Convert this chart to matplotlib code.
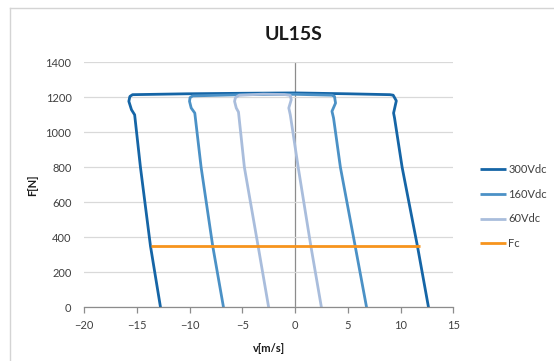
import matplotlib
matplotlib.use('Agg')
import matplotlib.pyplot as plt
from matplotlib.lines import Line2D

plt.rcParams['font.family'] = ['Lato', 'DejaVu Sans']

# Data (v in m/s, F in N)
v_300 = [-12.75, -13.7, -14.65, -15.2, -15.5, -15.75, -15.65, -15.4, -10.3, -5.0, 0.0, 5.0,
         9.0, 9.3, 9.6, 9.34, 9.43, 10.15, 11.6, 12.65]
F_300 = [0, 350, 800, 1100, 1129, 1177, 1205, 1215, 1220, 1223, 1225, 1220,
         1215, 1212, 1180, 1110, 1082, 800, 350, 0]

v_160 = [-6.78, -7.8, -8.9, -9.5, -9.84, -10.0, -9.95, -9.7, -5.0, 0.0, 3.5, 3.74,
         3.84, 3.5, 3.65, 4.3, 5.7, 6.78]
F_160 = [0, 350, 800, 1110, 1139, 1177, 1198, 1208, 1215, 1217, 1212, 1205,
         1167, 1120, 1082, 800, 350, 0]

v_60 = [-2.5, -3.5, -4.8, -5.36, -5.57, -5.73, -5.65, -5.3, -3.0, -1.0, -0.45, -0.36,
        -0.59, -0.45, 0.3, 1.5, 2.5]
F_60 = [0, 350, 800, 1116, 1139, 1177, 1198, 1212, 1218, 1216, 1211, 1186,
        1139, 1100, 800, 350, 0]

v_fc = [-13.65, 11.85]
F_fc = [350, 350]

series = [
    ('300Vdc', v_300, F_300, '#1565a6'),
    ('160Vdc', v_160, F_160, '#4b91c6'),
    ('60Vdc', v_60, F_60, '#a9bddc'),
    ('Fc', v_fc, F_fc, '#f7941d'),
]

fig = plt.figure(figsize=(5.54, 3.61), dpi=100)
ax = fig.add_axes([84 / 554, 1 - 307.3 / 361, (453.3 - 84) / 554, (307.3 - 62.3) / 361])

for name, v, F, col in series:
    ax.plot(v, F, color=col, lw=2.0, label=name, solid_joinstyle='round', solid_capstyle='butt')

ax.set_xlim(-20, 15)
ax.set_ylim(0, 1400)
ax.set_xticks(range(-20, 16, 5))
ax.set_yticks(range(0, 1401, 200))

ax.grid(axis='y', color='#d9d9d9', lw=0.9)
ax.set_axisbelow(True)
for s in ['top', 'right', 'left']:
    ax.spines[s].set_visible(False)
ax.spines['bottom'].set_color('#8c8c8c')
ax.spines['bottom'].set_linewidth(0.9)
ax.axvline(0, color='#8c8c8c', lw=0.9, zorder=0.5)

ax.tick_params(axis='x', direction='out', length=4, width=0.9, color='#8c8c8c',
               labelsize=8, labelcolor='#404040', pad=5)
ax.tick_params(axis='y', length=0, labelsize=8, labelcolor='#404040', pad=9)

# Excel centres the title over the whole chart area
fig.text(294 / 554, 1 - 35 / 361, 'UL15S', ha='center', va='center',
         fontsize=14, fontweight='bold', color='#1a1a1a')
ax.set_xlabel('v[m/s]', fontsize=8, fontweight='bold', color='#1a1a1a', labelpad=9)
ax.set_ylabel('F[N]', fontsize=8, fontweight='bold', color='#1a1a1a', labelpad=5)

fig.legend(loc='center left', bbox_to_anchor=(480 / 554, 1 - 206.5 / 361), frameon=False,
           fontsize=8, handlelength=2.3, handletextpad=0.25, labelspacing=1.25,
           borderpad=0, borderaxespad=0, labelcolor='#404040')

# chart area border
fig.add_artist(Line2D([10 / 554, 10 / 554], [0, 1 - 8 / 361], transform=fig.transFigure,
                      color='#d4d4d4', lw=1))
fig.add_artist(Line2D([10 / 554, 1], [1 - 8 / 361, 1 - 8 / 361], transform=fig.transFigure,
                      color='#d4d4d4', lw=1))

fig.savefig('out.png', dpi=100)
